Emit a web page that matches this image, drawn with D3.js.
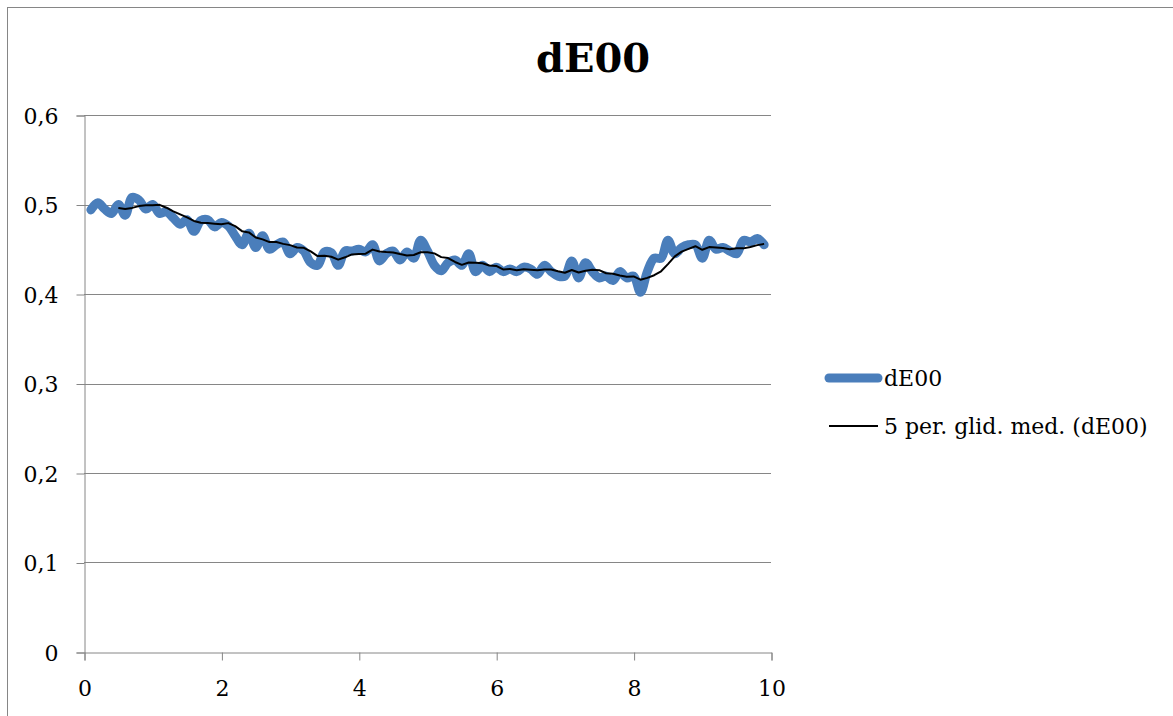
<!DOCTYPE html>
<html><head><meta charset="utf-8">
<script src="https://cdn.jsdelivr.net/npm/d3@7"></script>
<style>
html,body{margin:0;padding:0;background:#fff;}
svg{display:block;}
text{font-family:"DejaVu Serif",serif;}
</style></head>
<body><svg id="c" width="1173" height="716"></svg>
<script>
const xValues = [0.1,0.2,0.3,0.4,0.5,0.6,0.7,0.8,0.9,1.0,1.1,1.2,1.3,1.4,1.5,1.6,1.7,1.8,1.9,2.0,
2.1,2.2,2.3,2.4,2.5,2.6,2.7,2.8,2.9,3.0,3.1,3.2,3.3,3.4,3.5,3.6,3.7,3.8,3.9,4.0,
4.1,4.2,4.3,4.4,4.5,4.6,4.7,4.8,4.9,5.0,5.1,5.2,5.3,5.4,5.5,5.6,5.7,5.8,5.9,6.0,
6.1,6.2,6.3,6.4,6.5,6.6,6.7,6.8,6.9,7.0,7.1,7.2,7.3,7.4,7.5,7.6,7.7,7.8,7.9,8.0,
8.1,8.2,8.3,8.4,8.5,8.6,8.7,8.8,8.9,9.0,9.1,9.2,9.3,9.4,9.5,9.6,9.7,9.8,9.9];
const dE00 = [0.494,0.502,0.495,0.490,0.500,0.488,0.508,0.505,0.495,0.500,0.490,0.492,0.485,0.478,0.483,0.470,0.482,0.483,0.475,0.480,
0.476,0.465,0.455,0.468,0.452,0.465,0.450,0.455,0.458,0.445,0.452,0.448,0.435,0.432,0.447,0.446,0.432,0.448,0.448,0.450,
0.447,0.455,0.437,0.445,0.448,0.438,0.447,0.440,0.460,0.448,0.432,0.426,0.435,0.438,0.432,0.445,0.425,0.432,0.425,0.430,
0.425,0.428,0.425,0.430,0.428,0.422,0.432,0.425,0.420,0.420,0.437,0.418,0.435,0.425,0.418,0.420,0.415,0.425,0.418,0.420,
0.402,0.425,0.440,0.440,0.460,0.445,0.452,0.455,0.455,0.440,0.460,0.450,0.452,0.448,0.445,0.460,0.458,0.462,0.455];
const xTicks = [0,2,4,6,8,10];
const yTicks = [0,0.1,0.2,0.3,0.4,0.5,0.6];
const yTickLabels = ["0","0,1","0,2","0,3","0,4","0,5","0,6"];
const title = "dE00";
const seriesName = "dE00";
const trendName = "5 per. glid. med. (dE00)";
const period = 5;

const svg = d3.select("#c");
// outer chart border
svg.append("rect").attr("x",7.5).attr("y",7.5).attr("width",1180).attr("height",720)
  .attr("fill","#fff").attr("stroke","#868686").attr("stroke-width",1);

const x = d3.scaleLinear().domain([0,10]).range([84,771]);
const y = d3.scaleLinear().domain([0,0.6]).range([652,115]);

// gridlines
svg.append("g").selectAll("line").data(yTicks.slice(1)).join("line")
  .attr("x1",x(0)).attr("x2",x(10))
  .attr("y1",d=>Math.round(y(d))+0.5).attr("y2",d=>Math.round(y(d))+0.5)
  .attr("stroke","#868686").attr("stroke-width",1);

const yAxis = d3.axisLeft(y).tickValues(yTicks).tickSize(8).tickPadding(18)
  .tickFormat((d,i)=>yTickLabels[i]);
const gy = svg.append("g").attr("transform",`translate(${x(0)+0.5},0.5)`).call(yAxis);
const xAxis = d3.axisBottom(x).tickValues(xTicks).tickSize(8).tickPadding(20).tickFormat(d=>String(d));
const gx = svg.append("g").attr("transform",`translate(0.5,${Math.round(y(0))+0.5})`).call(xAxis);
[gx,gy].forEach(g=>{
  g.select(".domain").attr("stroke","#868686");
  g.selectAll(".tick line").attr("stroke","#868686");
  g.selectAll(".tick text").attr("fill","#000").style("font-size","22px")
    .style("font-family",'"DejaVu Serif",serif');
});
gy.selectAll(".tick text").attr("dy","0.36em");

const pts = xValues.map((v,i)=>[v,dE00[i]]);
const line = d3.line().x(d=>x(d[0])).y(d=>y(d[1])).curve(d3.curveCatmullRom.alpha(0.5));
svg.append("path").datum(pts).attr("d",line).attr("fill","none")
  .attr("stroke","#4a7ebb").attr("stroke-width",9).attr("stroke-linecap","round").attr("stroke-linejoin","round");

const ma = [];
for(let i=period-1;i<pts.length;i++){
  const m = d3.mean(dE00.slice(i-period+1,i+1));
  ma.push([xValues[i],m]);
}
const lineMA = d3.line().x(d=>x(d[0])).y(d=>y(d[1]));
svg.append("path").datum(ma).attr("d",lineMA).attr("fill","none")
  .attr("stroke","#000").attr("stroke-width",2).attr("stroke-linejoin","round");

svg.append("text").attr("x",593).attr("y",72).attr("text-anchor","middle")
  .style("font-size","40px").style("font-weight","bold").text(title);

// legend
const lg = svg.append("g");
lg.append("line").attr("x1",829).attr("x2",878).attr("y1",378).attr("y2",378)
  .attr("stroke","#4a7ebb").attr("stroke-width",9).attr("stroke-linecap","round");
lg.append("text").attr("x",884).attr("y",386).style("font-size","22px").text(seriesName);
lg.append("line").attr("x1",829).attr("x2",878).attr("y1",426).attr("y2",426)
  .attr("stroke","#000").attr("stroke-width",2);
lg.append("text").attr("x",884).attr("y",434).style("font-size","22px").text(trendName);
</script></body></html>
